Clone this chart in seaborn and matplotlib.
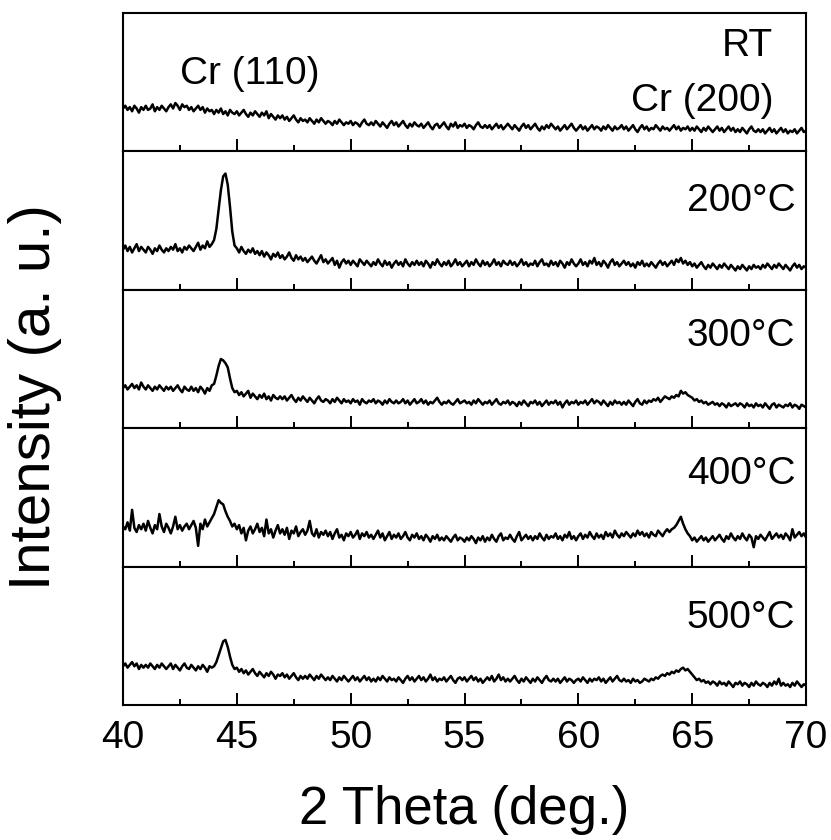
import numpy as np
import pandas as pd
import matplotlib
matplotlib.use("Agg")
import matplotlib.pyplot as plt
import seaborn as sns

# ---------------- data (panel units 0-100) ----------------
two_theta = np.round(np.arange(40.0, 70.0001, 0.1), 1)

panel_labels = ["RT", "200\u00b0C", "300\u00b0C", "400\u00b0C", "500\u00b0C"]

rt = [
    31,33,30,32,29,33,31,28,32,30, 33,30,31,34,29,32,30,33,31,29,
    32,34,31,35,33,30,34,32,33,30, 32,29,31,33,30,32,28,31,29,30,
    27,30,28,31,27,29,26,30,28,27, 29,26,28,30,27,25,28,26,29,27,
    25,28,26,29,24,27,25,23,26,24, 26,23,25,22,24,26,23,21,24,22,
    23,21,24,22,20,23,21,24,22,20, 22,21,19,22,20,23,21,19,21,20,
    22,19,21,20,18,21,23,20,19,21, 19,22,20,18,21,19,17,20,22,19,
    21,18,20,22,19,17,20,18,21,19, 18,20,17,19,21,18,16,19,20,17,
    19,21,18,16,20,18,21,17,19,18, 20,17,19,18,16,19,21,18,17,19,
    17,19,16,18,20,17,19,16,18,20, 18,16,19,17,15,18,20,17,19,16,
    18,20,17,15,18,16,19,17,20,18, 16,18,15,17,19,16,18,20,17,15,
    17,19,16,18,15,17,19,16,18,17, 15,18,16,19,17,15,18,16,17,19,
    16,18,15,17,19,16,14,17,19,16, 18,15,17,16,19,17,15,18,16,17,
    15,17,19,16,18,15,17,16,18,15, 17,15,18,16,14,17,15,18,16,14,
    16,18,15,17,14,16,18,15,17,14, 16,14,17,15,13,16,18,15,14,16,
    14,16,13,15,17,14,16,13,15,17, 14,16,13,15,14,16,13,15,17,14,
    15,
]

t200 = [
    29,32,28,31,27,30,33,28,31,29, 27,31,29,26,30,28,32,29,27,30,
    28,31,29,33,28,30,27,31,29,32, 30,28,31,34,29,32,30,35,31,33,
    36,44,58,72,82,84,76,60,42,32, 30,27,31,28,26,29,27,30,26,28,
    25,28,24,27,25,22,26,24,27,23, 25,22,24,27,23,21,25,22,24,21,
    23,20,22,24,21,19,22,25,20,22, 19,21,23,18,21,16,20,22,19,21,
    18,21,19,17,22,20,18,21,19,17, 20,18,22,19,17,21,18,20,16,19,
    21,18,20,17,22,19,17,20,18,21, 18,20,17,21,19,16,20,18,22,19,
    17,20,18,21,17,19,22,18,20,17, 19,21,17,20,18,22,19,17,21,18,
    20,17,19,22,18,20,17,21,19,18, 21,18,20,17,19,22,18,20,17,19,
    18,21,17,20,22,18,19,17,21,18, 20,17,21,19,16,20,18,22,19,17,
    19,22,18,20,17,21,19,23,18,20, 17,21,19,16,20,22,18,20,17,19,
    21,18,20,17,19,16,20,18,21,17, 19,17,20,18,16,19,21,18,20,17,
    19,21,18,22,20,23,19,21,18,20, 17,19,16,18,20,17,15,18,16,19,
    17,15,18,16,19,17,15,18,16,14, 17,15,18,16,14,17,15,18,16,17,
    15,18,16,19,17,15,18,16,19,17, 15,18,16,14,17,19,16,18,15,17,
    16,
]

t300 = [
    29,31,28,30,32,29,31,28,33,30, 28,31,29,27,30,28,31,29,27,30,
    28,30,27,29,31,28,26,30,28,27, 30,27,29,26,30,28,25,29,27,31,
    32,38,45,50,49,47,44,36,29,26, 27,24,26,23,25,27,22,25,23,21,
    24,22,25,21,23,20,24,22,21,23, 21,23,20,22,24,21,19,22,20,23,
    21,19,22,20,18,21,23,20,19,21, 20,18,21,19,22,20,18,21,19,20,
    18,21,19,20,17,21,19,18,20,19, 21,18,20,19,17,20,18,21,19,18,
    20,18,19,21,18,20,17,19,21,18, 19,21,18,20,17,19,18,20,22,19,
    17,19,18,20,18,17,19,21,18,19, 20,18,19,17,20,18,21,19,17,19,
    18,20,17,19,21,18,17,19,18,20, 17,19,18,16,19,17,20,18,16,19,
    18,20,17,19,16,18,20,17,19,18, 20,17,19,15,18,20,17,19,18,20,
    17,19,18,20,17,19,21,18,20,19, 17,20,18,16,19,17,20,18,19,17,
    19,17,20,18,16,19,21,18,17,20, 18,20,19,21,20,22,19,21,23,22,
    21,23,22,24,23,27,25,26,24,23, 22,20,21,19,20,18,19,17,18,19,
    17,18,16,18,17,15,18,16,17,18, 16,18,17,15,18,16,17,15,18,16,
    17,15,18,16,14,17,18,15,17,16, 15,17,16,18,15,17,16,14,17,16,
    15,
]

t400 = [
    29,27,32,26,41,28,25,30,27,31, 26,33,28,24,30,27,38,29,25,31,
    28,24,29,36,27,30,26,29,31,27, 30,33,28,15,31,27,34,29,32,35,
    38,43,48,46,45,40,36,33,29,31, 27,30,24,28,19,26,29,24,27,31,
    25,28,22,34,24,27,21,26,30,24, 27,23,28,20,26,24,29,22,25,27,
    23,26,33,24,22,27,21,25,23,26, 22,25,20,24,27,21,23,19,24,22,
    25,21,23,26,20,24,22,25,21,23, 20,23,26,21,24,19,22,25,20,23,
    21,24,20,22,25,21,19,23,21,24, 20,22,19,23,21,18,22,20,23,19,
    21,19,22,20,18,21,23,19,21,20, 18,21,19,22,20,17,21,19,22,18,
    21,19,23,20,18,22,24,19,21,20, 23,20,18,22,25,19,21,23,20,22,
    19,22,20,24,21,19,23,20,22,21, 24,20,22,19,23,21,25,20,22,19,
    22,24,20,23,21,25,22,20,24,21, 23,20,25,22,24,21,26,23,21,24,
    22,25,23,21,24,22,26,23,25,22, 24,21,25,23,22,26,24,22,25,27,
    25,27,28,30,33,36,31,27,24,22, 19,21,18,20,22,19,21,18,20,22,
    19,21,23,20,18,22,20,24,21,19, 22,20,24,21,19,23,21,14,22,20,
    23,21,19,22,25,20,22,24,21,23, 20,24,22,19,27,21,23,25,22,24,
    21,
]

t500 = [
    28,30,27,29,31,28,30,26,29,27, 29,27,30,28,26,29,27,30,28,26,
    28,30,26,29,27,25,28,30,27,26, 29,27,25,28,26,29,27,24,28,27,
    28,31,36,41,46,47,42,35,29,26, 27,24,26,23,25,22,24,26,23,21,
    24,22,20,23,21,24,22,19,22,21, 23,20,22,19,21,23,20,18,21,19,
    21,19,22,20,18,21,19,22,20,18, 20,18,21,19,17,20,18,21,19,17,
    19,21,18,20,17,19,21,18,20,17, 19,17,20,18,21,19,17,20,18,19,
    17,20,18,16,19,21,18,20,17,19, 21,18,20,17,19,22,18,20,17,19,
    18,20,17,19,21,18,16,19,20,18, 20,17,19,21,18,20,17,19,16,18,
    20,18,21,17,19,22,18,20,17,19, 17,19,21,18,16,19,17,20,18,16,
    19,17,20,18,16,19,21,18,17,19, 17,19,16,18,20,17,19,18,16,18,
    19,17,20,18,16,19,17,19,18,20, 17,19,16,18,20,17,19,21,18,17,
    19,17,18,16,19,17,18,16,17,19, 18,17,19,18,20,19,21,22,21,23,
    22,24,23,25,24,26,27,25,26,24, 22,20,18,19,17,18,16,17,15,17,
    16,14,17,15,16,14,17,15,13,16, 15,17,14,16,15,13,16,14,17,15,
    14,16,15,13,16,14,17,15,19,14, 16,14,15,13,16,14,17,15,13,15,
    14,
]

series = [rt, t200, t300, t400, t500]

# ---------------- style ----------------
sns.set_style("white")
plt.rcParams["font.family"] = ["Liberation Sans", "DejaVu Sans"]
plt.rcParams["text.color"] = "black"
plt.rcParams["axes.labelcolor"] = "black"
plt.rcParams["xtick.color"] = "black"
plt.rcParams["ytick.color"] = "black"

fig, axes = plt.subplots(5, 1, figsize=(8.31, 8.40), dpi=100, sharex=True)
fig.subplots_adjust(left=0.148, right=0.970, top=0.9845, bottom=0.1607, hspace=0)

label_pos = [
    (0.952, 0.693),   # RT
    (0.984, 0.568),
    (0.984, 0.597),
    (0.984, 0.600),
    (0.984, 0.554),
]

for ax, vals, lab, (lx, ly) in zip(axes, series, panel_labels, label_pos):
    df = pd.DataFrame({"two_theta": two_theta, "intensity": vals})
    sns.lineplot(data=df, x="two_theta", y="intensity", ax=ax,
                 color="black", linewidth=1.8, estimator=None)
    ax.set_xlim(40, 70)
    ax.set_ylim(0, 100)
    ax.set_yticks([])
    ax.set_ylabel("")
    ax.set_xlabel("")
    ax.set_xticks([40, 45, 50, 55, 60, 65, 70])
    ax.set_xticks(np.arange(42.5, 70, 5), minor=True)
    ax.tick_params(axis="x", which="major", direction="in", length=8.5, width=1.4,
                   bottom=True, top=False, labelsize=28, pad=11, colors="black")
    ax.tick_params(axis="x", which="minor", direction="in", length=4.3, width=1.4,
                   bottom=True, top=False)
    for sp in ax.spines.values():
        sp.set_linewidth(1.5)
        sp.set_color("black")
    ax.text(lx, ly, lab, transform=ax.transAxes, ha="right", va="baseline",
            fontsize=28, color="black")

axes[0].text(0.186, 0.489, "Cr (110)", transform=axes[0].transAxes,
             ha="center", va="baseline", fontsize=28, color="black")
axes[0].text(0.952, 0.292, "Cr (200)", transform=axes[0].transAxes,
             ha="right", va="baseline", fontsize=28, color="black")

axes[-1].set_xlabel("2 Theta (deg.)", fontsize=38, labelpad=21)
fig.text(0.042, 0.527, "Intensity (a. u.)", rotation=90, ha="center", va="center",
         fontsize=42)

fig.savefig("out.png", dpi=100)
